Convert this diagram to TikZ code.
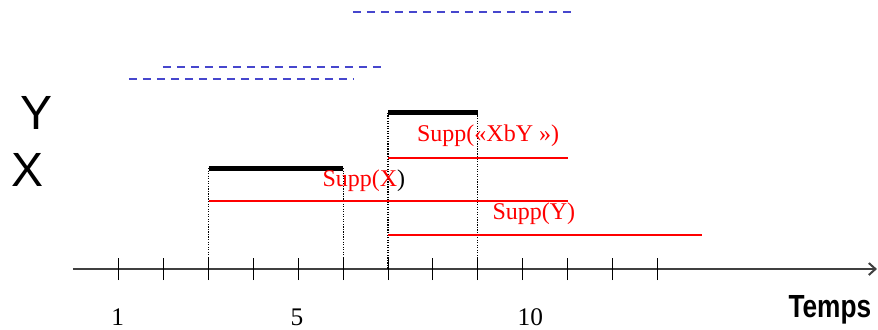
\documentclass[tikz,border=0pt]{standalone}
\usepackage{fontspec}
\setmainfont{Liberation Serif}
\setsansfont{Liberation Sans}
\usetikzlibrary{arrows.meta}
\definecolor{bleu}{RGB}{70,70,205}

\begin{document}
\begin{tikzpicture}[x=33.64pt, y=33.64pt,
    barre/.style={line width=3.75pt},
    supp/.style={red, line width=1pt},
    pointille/.style={densely dotted, line width=0.9pt},
    tiret/.style={bleu, line width=1.5pt, dash pattern=on 6pt off 4.5pt},
    etiq/.style={red, font=\fontsize{18}{20}\selectfont, inner sep=0pt, anchor=base},
    nombre/.style={font=\fontsize{19}{21}\selectfont, inner sep=0pt, anchor=base},
    lettre/.style={font=\sffamily\fontsize{36}{38}\selectfont, inner sep=0pt, anchor=base}]
    \useasboundingbox (-1.653,-1.338) rectangle (17.923,5.998);

    % Axe du temps
    \draw[line width=1.5pt, black!75, -{Straight Barb[length=5pt, width=9pt]}] (-0.03,0) -- (17.9,0);
    \foreach \t in {1,...,13}
        \draw[line width=0.75pt] (\t,-0.25) -- (\t,0.25);
    \node[nombre] (n1) at (0.97,-1.25) {1};
    \node[nombre] (n5) at (4.97,-1.25) {5};
    \node[nombre] (n10) at (10.17,-1.25) {10};
    \node[font=\sffamily\bfseries\fontsize{24}{26}\selectfont, inner sep=0pt, anchor=base] (temps) at (16.85,-1.07) {\scalebox{0.82}[1]{Temps}};

    % Evenements
    \node[lettre] (Y) at (-0.83,3.10) {Y};
    \node[lettre] (X) at (-1.04,1.85) {X};
    \draw[barre] (3,2.25) -- (6,2.25);
    \draw[barre] (7,3.48) -- (9,3.48);
    \draw[pointille] (3,2.25) -- (3,0);
    \draw[pointille] (6,2.25) -- (6,0);
    \draw[pointille] (7,3.48) -- (7,0);
    \draw[pointille] (9,3.48) -- (9,0);

    % Supports
    \draw[supp] (7,2.475) -- (11,2.475);
    \draw[supp] (3,1.516) -- (11,1.516);
    \draw[supp] (7,0.758) -- (14,0.758);
    \node[etiq] (sxy) at (9.23,2.84) {Supp(«XbY »)};
    \node[etiq] (sx) at (6.46,1.835) {Supp(X\textcolor{black}{)}};
    \node[etiq] (sy) at (10.25,1.108) {Supp(Y)};

    % Fenetres
    \draw[tiret] (6.217,5.73) -- (11.21,5.73);
    \draw[tiret] (1.981,4.504) -- (6.953,4.504);
    \draw[tiret] (1.22,4.236) -- (6.217,4.236);
\end{tikzpicture}
\end{document}
